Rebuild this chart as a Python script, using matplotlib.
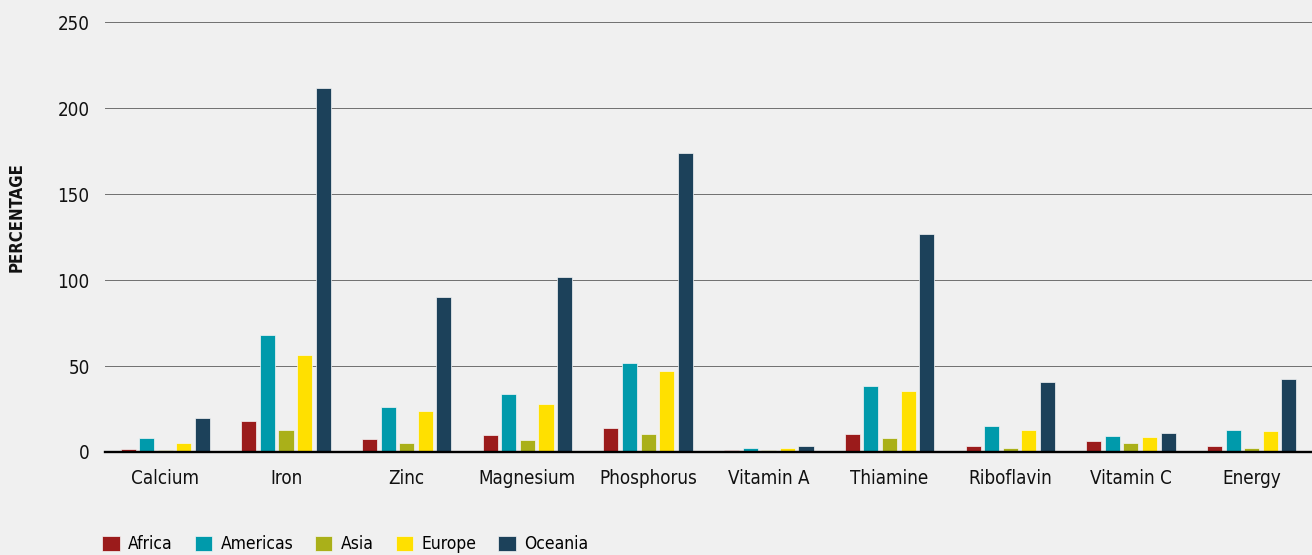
import numpy as np
import matplotlib.pyplot as plt

# Nutrient categories and regional values (percentage)
nutrients = ['Calcium', 'Iron', 'Zinc', 'Magnesium', 'Phosphorus',
             'Vitamin A', 'Thiamine', 'Riboflavin', 'Vitamin C', 'Energy']
regions = ['Africa', 'Americas', 'Asia', 'Europe', 'Oceania']

africa = [1.6, 18, 7.5, 10, 14, 1.2, 10.7, 3.7, 6.2, 3.7]
americas = [8, 68, 26, 34, 52, 2.3, 38.5, 15, 9.3, 13]
asia = [1, 13, 5.2, 7, 10.7, 1, 8, 2.5, 5.4, 2.5]
europe = [5.4, 56.5, 23.7, 28, 47, 2.3, 35.5, 12.8, 9, 12.2]
oceania = [19.7, 212, 90, 102, 174, 3.5, 127, 41, 11.2, 42.5]

colors = ['#9B1B1B', '#009AAB', '#AAB019', '#FFE000', '#1C415A']
series = [africa, americas, asia, europe, oceania]

plt.rcParams['font.family'] = ['DejaVu Sans']
plt.rcParams['font.stretch'] = 'condensed'
bg = '#F0F0F0'

fig = plt.figure(figsize=(13.12, 5.55), dpi=100, facecolor=bg)
ax = fig.add_axes([0.080, 0.1856, 0.920, 0.7744], facecolor=bg)

x = np.arange(len(nutrients))
step = 0.154
width = 0.125
for i, (vals, col, name) in enumerate(zip(series, colors, regions)):
    ax.bar(x + (i - 2) * step, vals, width=width, color=col, label=name,
           edgecolor='#f6f6f6', linewidth=0.5, zorder=3)

ax.set_xlim(-0.5, len(nutrients) - 0.5)
ax.set_ylim(0, 250)
ax.set_yticks([0, 50, 100, 150, 200, 250])
ax.yaxis.grid(True, color='#707070', linewidth=0.7, zorder=0)
for gl in ax.get_ygridlines():
    gl.set_clip_on(False)
ax.axhline(0, color='black', linewidth=1.7, zorder=4, clip_on=False)

for s in ax.spines.values():
    s.set_visible(False)
ax.tick_params(axis='y', length=0, pad=11, labelsize=13.5, labelcolor='#111111')
ax.tick_params(axis='x', length=0, pad=12, labelsize=13.5, labelcolor='#111111')
ax.set_xticks(x)
ax.set_xticklabels(nutrients)

fig.text(0.006, 0.609, 'PERCENTAGE', rotation=90, ha='left', va='center',
         fontsize=12, fontweight='bold', color='#111111')

fig.legend(loc='lower left', bbox_to_anchor=(0.066, -0.025), ncol=5,
           frameon=False, fontsize=12.5, handlelength=1.0, handleheight=1.0,
           handletextpad=0.5, columnspacing=1.25)

fig.savefig('out.png', dpi=100, facecolor=bg)
